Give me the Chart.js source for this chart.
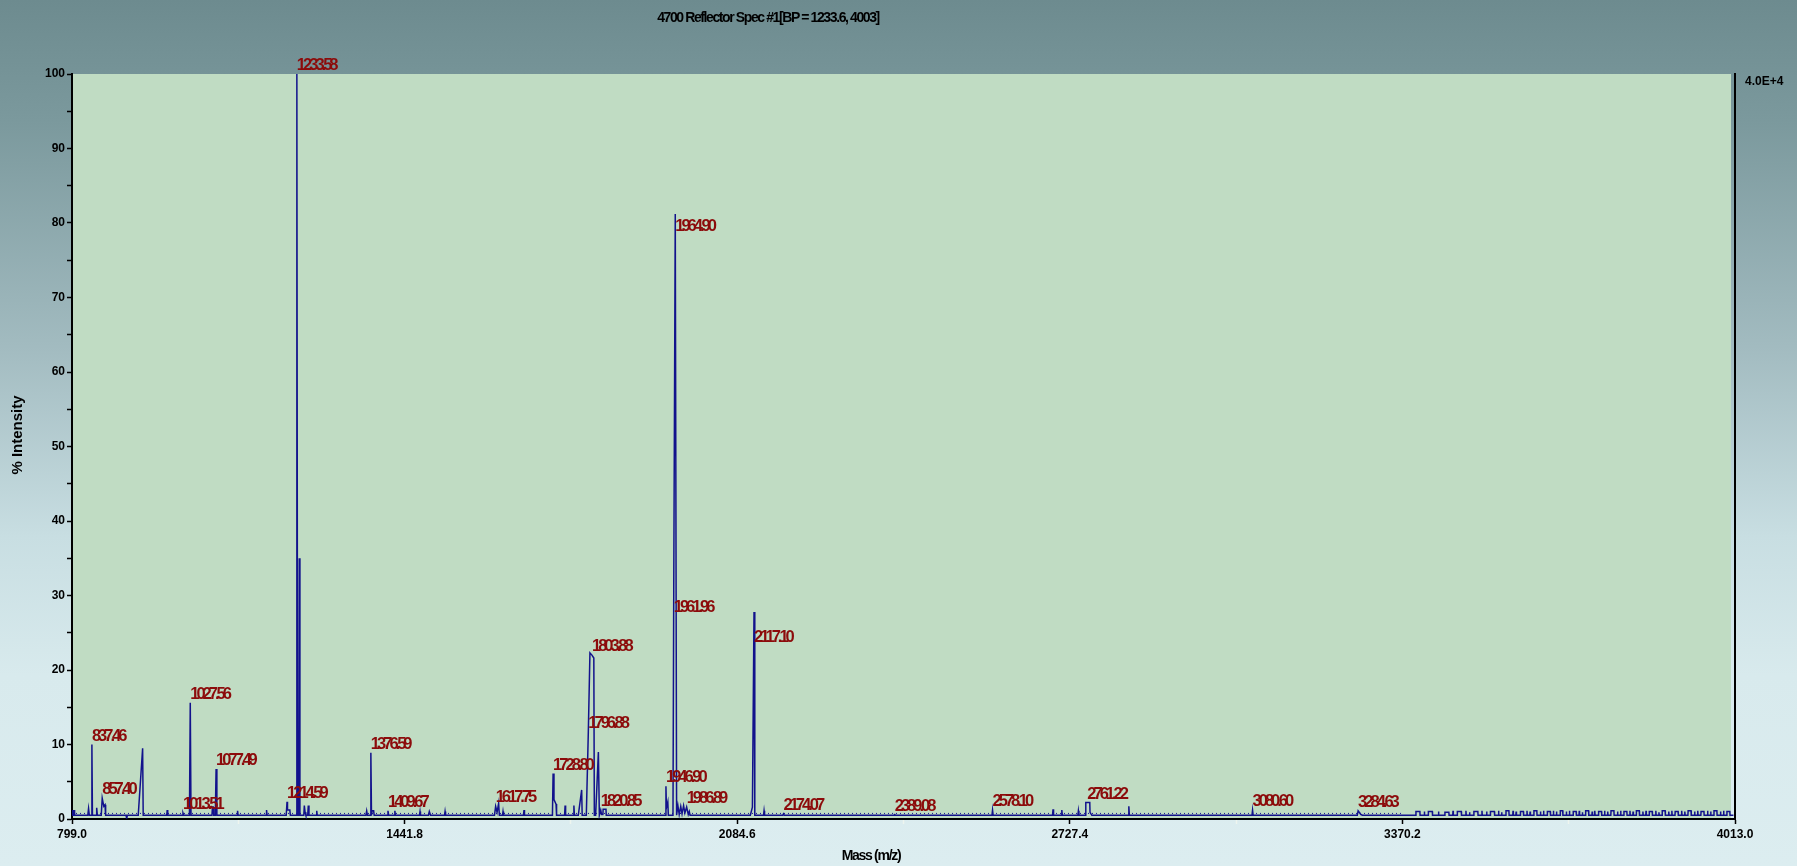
<!DOCTYPE html>
<html>
<head>
<meta charset="utf-8">
<title>4700 Reflector Spec #1</title>
<script src="https://cdn.jsdelivr.net/npm/chart.js@4.4.1/dist/chart.umd.min.js"></script>
<style>
  html, body {
    margin: 0;
    padding: 0;
    overflow: hidden;
  }
  body {
    width: 1797px;
    height: 866px;
    background: linear-gradient(180deg, #6d8b8f 0%, #7b999d 14%, #a2bbc0 40%, #c8dee2 62%, #d8eaed 78%, #dcedf0 100%);
  }
  #spec {
    display: block;
  }
</style>
</head>
<body>
<canvas id="spec" width="1797" height="866"></canvas>
<script>
// axis ticks (m/z and % intensity)
const massTicks = [799.0, 1441.8, 2084.6, 2727.4, 3370.2, 4013.0];
const massMinorTicks = [1120.4, 1763.2, 2406.0, 3048.8, 3691.6];
const intensityTicks = [0, 5, 10, 15, 20, 25, 30, 35, 40, 45, 50, 55, 60, 65, 70, 75, 80, 85, 90, 95, 100];

// annotated peaks: m/z and % intensity
const labelMz  = [837.46, 857.40, 1013.51, 1027.56, 1077.49, 1214.59, 1233.58, 1376.59, 1409.67, 1617.75,
                  1728.80, 1796.88, 1803.88, 1820.85, 1946.90, 1961.96, 1964.90, 1986.89, 2117.10, 2174.07,
                  2389.08, 2578.10, 2761.22, 3080.60, 3284.63];
const labelPct = [10.0, 2.8, 0.8, 15.6, 6.7, 2.3, 100, 8.9, 1.1, 1.7,
                  6.1, 11.7, 22.0, 1.2, 4.4, 30.6, 81.2, 1.6, 27.8, 0.7,
                  0.6, 1.2, 2.2, 1.2, 1.1];

// rest of the profile, [m/z, %]
const traceA = [
  [799, 1.2], [800.5, 0.5], [802, 0.5], [803, 1.2], [804, 0.5],
  [829.5, 0.5], [831, 1.4], [832.5, 0.5],
  [836, 0.5], [838.5, 0.5],
  [845.5, 0.5], [846.7, 1.5], [848, 0.5],
  [855.5, 0.5], [860.5, 1.7], [862.8, 1.9], [864, 0.5],
  [903.5, 0.5], [904.7, 0.05], [906, 0.5],
  [927, 0.5], [935.5, 9.5], [936.6, 0.5],
  [982, 0.5], [983, 1.2], [984, 0.5],
  [1012, 0.5], [1015, 0.5],
  [1026, 0.5], [1029, 0.5],
  [1069.5, 0.5], [1070.5, 1.6], [1072, 1.6], [1073, 0.5],
  [1076, 0.5], [1079, 0.5],
  [1118, 0.5], [1119, 1.1], [1120, 0.5],
  [1174, 0.5], [1175, 1.2], [1176, 0.5],
  [1213, 0.5], [1215.5, 1.2], [1220, 1.2], [1221, 0.5],
  [1232, 0.5], [1235, 0.5], [1237.5, 0.5], [1238.3, 35], [1239.5, 0.5],
  [1247, 0.5], [1248, 1.8], [1249.5, 0.9], [1251, 0.5],
  [1254.5, 0.5], [1255.7, 1.8], [1257, 0.5],
  [1271, 0.5], [1272, 1.1], [1273, 0.5]
];
const traceB = [
  [1367, 0.5], [1368.5, 1.1], [1370, 0.5],
  [1375, 0.5], [1377.8, 0.5], [1379, 1.1], [1382, 1.1], [1383, 0.5],
  [1408, 0.5], [1411, 0.5],
  [1422, 0.5], [1423, 1.1], [1424, 0.5],
  [1470.5, 0.5], [1471.6, 1.0], [1472.5, 0.5],
  [1488, 0.5], [1489.6, 1.0], [1492, 0.5],
  [1519, 0.5], [1520, 1.0], [1521, 0.5],
  [1615.5, 0.5], [1620.5, 0.9], [1623.5, 2.1], [1625, 0.5],
  [1631, 0.5], [1632, 1.0], [1633, 0.5],
  [1671.5, 0.5], [1672.6, 1.2], [1673.5, 0.5],
  [1727.5, 0.5], [1730.5, 2.6], [1734.5, 2.0], [1735.5, 0.5],
  [1751, 0.5], [1752, 1.8], [1753, 0.5],
  [1768, 0.5], [1769, 1.8], [1770, 0.5],
  [1777.5, 0.5], [1784, 3.9], [1785, 0.5],
  [1793, 0.5], [1800.0, 22.3], [1807.5, 21.6], [1808.5, 0.5],
  [1811, 0.5], [1816.3, 9.0], [1818.2, 0.5],
  [1822.5, 0.6], [1825, 0.6], [1825.5, 1.3], [1831, 1.3], [1831.5, 0.5]
];
const traceC = [
  [1945.5, 0.5], [1947.8, 1.5], [1950.5, 2.3], [1951.5, 0.5],
  [1960.5, 0.5], [1967.5, 0.5],
  [1970, 1.8], [1972.5, 0.6], [1975.5, 1.7], [1978, 0.7], [1981, 1.8], [1983.5, 0.8],
  [1990, 0.6], [1992, 1.0], [1993.5, 0.5],
  [2110, 0.5], [2114, 1.6], [2118.6, 0.5],
  [2135.5, 0.5], [2136.5, 1.1], [2137.5, 0.5],
  [2172.5, 0.5], [2175.5, 0.5],
  [2387.5, 0.5], [2390.5, 0.5],
  [2577, 0.5], [2579.2, 0.5],
  [2694, 0.5], [2695, 1.3], [2696, 0.5],
  [2711, 0.5], [2712, 1.2], [2713, 0.5],
  [2743, 0.5], [2744, 1.1], [2745, 0.5],
  [2757.8, 0.5], [2758.3, 2.2], [2766, 2.2], [2766.5, 0.9], [2770, 0.5],
  [2840.5, 0.5], [2841.5, 1.7], [2842.5, 0.5],
  [3079.5, 0.5], [3081.7, 0.5],
  [3283, 0.5], [3290, 0.6], [3293, 0.5]
];
const traceD = [
  [3372, 0.5], [3396, 0.5], [3396.4, 1.0], [3404, 1.0], [3404.4, 0.5],
  [3412, 0.5], [3412.6, 1.0], [3413.2, 0.5],
  [3420, 0.5], [3420.4, 1.0], [3428, 1.0], [3428.4, 0.5],
  [3439.5, 0.5], [3440, 1.0], [3440.6, 0.5],
  [3452, 0.5], [3452.4, 0.9], [3460, 0.9], [3460.4, 0.5],
  [3467.5, 0.5], [3468, 1.1], [3468.6, 0.5],
  [3476, 0.5], [3476.4, 1.0], [3484, 1.0], [3484.4, 0.5],
  [3492.5, 0.5], [3493, 1.1], [3493.6, 0.5],
  [3499.5, 0.5], [3500, 0.9], [3500.6, 0.5],
  [3508, 0.5], [3508.4, 1.0], [3516, 1.0], [3516.4, 0.5],
  [3523.5, 0.5], [3524, 1.1], [3524.6, 0.5],
  [3532.5, 0.5], [3533, 1.0], [3533.6, 0.5],
  [3540, 0.5], [3540.4, 1.0], [3548, 1.0], [3548.4, 0.5],
  [3555.5, 0.5], [3556, 1.1], [3556.6, 0.5],
  [3561.5, 0.5], [3562, 0.9], [3562.6, 0.5],
  [3570, 0.5], [3570.4, 1.1], [3576, 1.1], [3576.4, 0.5],
  [3583.5, 0.5], [3584, 1.1], [3584.6, 0.5],
  [3589.5, 0.5], [3590, 1.0], [3590.6, 0.5],
  [3598, 0.5], [3598.4, 1.0], [3604, 1.0], [3604.4, 0.5],
  [3610.5, 0.5], [3611, 1.1], [3611.6, 0.5],
  [3616.5, 0.5], [3617, 1.0], [3617.6, 0.5],
  [3624, 0.5], [3624.4, 1.1], [3630, 1.1], [3630.4, 0.5],
  [3636.5, 0.5], [3637, 1.0], [3637.6, 0.5],
  [3642.5, 0.5], [3643, 1.1], [3643.6, 0.5],
  [3650, 0.5], [3650.4, 1.0], [3656, 1.0], [3656.4, 0.5],
  [3661.5, 0.5], [3662, 1.1], [3662.6, 0.5],
  [3667.5, 0.5], [3668, 1.0], [3668.6, 0.5],
  [3675, 0.5], [3675.4, 1.1], [3680, 1.1], [3680.4, 0.5],
  [3686.5, 0.5], [3687, 1.0], [3687.6, 0.5],
  [3692.5, 0.5], [3693, 1.1], [3693.6, 0.5],
  [3700, 0.5], [3700.4, 1.0], [3706, 1.0], [3706.4, 0.5],
  [3711.5, 0.5], [3712, 1.1], [3712.6, 0.5],
  [3717.5, 0.5], [3718, 0.9], [3718.6, 0.5],
  [3724, 0.5], [3724.4, 1.1], [3730, 1.1], [3730.4, 0.5],
  [3736.5, 0.5], [3737, 1.0], [3737.6, 0.5],
  [3741.5, 0.5], [3742, 1.1], [3742.6, 0.5],
  [3749, 0.5], [3749.4, 1.0], [3755, 1.0], [3755.4, 0.5],
  [3760.5, 0.5], [3761, 1.1], [3761.6, 0.5],
  [3766.5, 0.5], [3767, 1.0], [3767.6, 0.5],
  [3773, 0.5], [3773.4, 1.1], [3779, 1.1], [3779.4, 0.5],
  [3785.5, 0.5], [3786, 1.0], [3786.6, 0.5],
  [3791.5, 0.5], [3792, 1.1], [3792.6, 0.5],
  [3798, 0.5], [3798.4, 1.0], [3804, 1.0], [3804.4, 0.5],
  [3809.5, 0.5], [3810, 1.1], [3810.6, 0.5],
  [3815.5, 0.5], [3816, 1.0], [3816.6, 0.5],
  [3822, 0.5], [3822.4, 1.1], [3828, 1.1], [3828.4, 0.5],
  [3834.5, 0.5], [3835, 1.0], [3835.6, 0.5],
  [3840.5, 0.5], [3841, 1.1], [3841.6, 0.5],
  [3847, 0.5], [3847.4, 1.0], [3853, 1.0], [3853.4, 0.5],
  [3859.5, 0.5], [3860, 1.1], [3860.6, 0.5],
  [3865.5, 0.5], [3866, 0.9], [3866.6, 0.5],
  [3872, 0.5], [3872.4, 1.1], [3878, 1.1], [3878.4, 0.5],
  [3884.5, 0.5], [3885, 1.0], [3885.6, 0.5],
  [3890.5, 0.5], [3891, 1.1], [3891.6, 0.5],
  [3897, 0.5], [3897.4, 1.0], [3903, 1.0], [3903.4, 0.5],
  [3909.5, 0.5], [3910, 1.1], [3910.6, 0.5],
  [3915.5, 0.5], [3916, 1.0], [3916.6, 0.5],
  [3922, 0.5], [3922.4, 1.1], [3928, 1.1], [3928.4, 0.5],
  [3934.5, 0.5], [3935, 1.0], [3935.6, 0.5],
  [3940.5, 0.5], [3941, 1.1], [3941.6, 0.5],
  [3947, 0.5], [3947.4, 1.0], [3953, 1.0], [3953.4, 0.5],
  [3959.5, 0.5], [3960, 1.1], [3960.6, 0.5],
  [3965.5, 0.5], [3966, 1.0], [3966.6, 0.5],
  [3972, 0.5], [3972.4, 1.1], [3978, 1.1], [3978.4, 0.5],
  [3984.5, 0.5], [3985, 1.0], [3985.6, 0.5],
  [3990.5, 0.5], [3991, 1.1], [3991.6, 0.5],
  [3997, 0.5], [3997.4, 1.0], [4003, 1.0], [4003.4, 0.5],
  [4010, 0.5]
];
// faint dotted noise floor just above the baseline
const noiseFloor = [[799, 0.75], [3370, 0.75]];

const fontFamily = '"Liberation Sans", Arial, sans-serif';
const labelRed = '#8c0b0b';
const traceBlue = '#12128c';

const trace = [...traceA, ...traceB, ...traceC, ...traceD,
               ...labelMz.map((m, i) => [m, labelPct[i]])]
  .sort((a, b) => a[0] - b[0])
  .map(([x, y]) => ({ x, y }));

function drawText(ctx, text, x, y, font, color, spacing, align) {
  ctx.save();
  ctx.font = font;
  ctx.fillStyle = color;
  ctx.letterSpacing = spacing;
  ctx.textAlign = align;
  ctx.fillText(text, x, y);
  ctx.restore();
}

// green plotting field behind the trace
const plotField = {
  id: 'plotField',
  beforeDraw(chart) {
    const { ctx, chartArea: a } = chart;
    ctx.save();
    ctx.fillStyle = '#c0dcc3';
    ctx.fillRect(a.left, a.top, a.right - a.left - 4, a.bottom - a.top);
    ctx.restore();
  }
};

// title, axis captions and peak annotations
const annotations = {
  id: 'annotations',
  afterDraw(chart) {
    const { ctx, chartArea: a } = chart;
    const xs = chart.scales.x;
    const ys = chart.scales.y;

    ctx.save();
    ctx.textBaseline = 'middle';
    drawText(ctx, '4700 Reflector Spec #1[BP = 1233.6, 4003]', 768, 18,
      'bold 14px ' + fontFamily, '#000', '-1.4px', 'center');
    drawText(ctx, '4.0E+4', a.right + 10, 82, 'bold 12px ' + fontFamily, '#000', '0px', 'left');
    drawText(ctx, 'Mass (m/z)', 871, 856, 'bold 14px ' + fontFamily, '#000', '-1.3px', 'center');
    ctx.translate(18, 435);
    ctx.rotate(-Math.PI / 2);
    drawText(ctx, '% Intensity', 0, 0, 'bold 15px ' + fontFamily, '#000', '0px', 'center');
    ctx.restore();

    // a few labels sit below their peak tops
    const dropBelow = { '1961.96': 21, '1964.90': 17, '2117.10': 30 };
    ctx.save();
    ctx.textBaseline = 'alphabetic';
    labelMz.forEach((m, i) => {
      const text = m.toFixed(2);
      const px = xs.getPixelForValue(m);
      const py = ys.getPixelForValue(labelPct[i]);
      const y = dropBelow[text] !== undefined ? py + dropBelow[text] : py - 4;
      drawText(ctx, text, px, y, 'bold 16.5px ' + fontFamily, labelRed, '-3px', 'left');
    });
    ctx.restore();
  }
};

const ctx = document.getElementById('spec').getContext('2d');
new Chart(ctx, {
  type: 'line',
  data: {
    datasets: [
      {
        data: trace,
        borderColor: traceBlue,
        borderWidth: 1.5,
        pointRadius: 0,
        tension: 0,
        fill: false
      },
      {
        data: noiseFloor.map(([x, y]) => ({ x, y })),
        borderColor: traceBlue,
        borderWidth: 1,
        borderDash: [1, 3],
        pointRadius: 0,
        fill: false
      }
    ]
  },
  options: {
    responsive: false,
    animation: false,
    devicePixelRatio: 1,
    layout: { padding: { top: 74, left: 0, right: 0, bottom: 0 } },
    plugins: {
      legend: { display: false },
      tooltip: { enabled: false },
      title: { display: false }
    },
    scales: {
      x: {
        type: 'linear',
        min: massTicks[0],
        max: massTicks[massTicks.length - 1],
        afterBuildTicks: axis => {
          axis.ticks = [...massTicks, ...massMinorTicks].sort((a, b) => a - b).map(v => ({ value: v }));
        },
        afterFit: axis => { axis.height = 47; },
        ticks: {
          autoSkip: false,
          maxRotation: 0,
          padding: 3,
          color: '#000',
          font: { family: fontFamily, size: 12, weight: 'bold' },
          callback: v => massTicks.includes(v) ? v.toFixed(1) : ''
        },
        grid: {
          drawOnChartArea: false,
          tickLength: 5,
          tickWidth: 1.5,
          tickColor: c => massTicks.includes(c.tick.value) ? '#000' : '#eef5ef'
        },
        border: { color: '#000', width: 2 }
      },
      y: {
        type: 'linear',
        position: 'left',
        min: 0,
        max: 100,
        afterBuildTicks: axis => {
          axis.ticks = intensityTicks.map(v => ({ value: v }));
        },
        afterFit: axis => { axis.width = 72; },
        ticks: {
          autoSkip: false,
          padding: 2,
          color: '#000',
          font: { family: fontFamily, size: 12, weight: 'bold' },
          callback: v => v % 10 === 0 ? String(v) : ''
        },
        grid: {
          drawOnChartArea: false,
          tickLength: 5,
          tickWidth: 1.5,
          tickColor: '#000'
        },
        border: { color: '#000', width: 2 }
      },
      y2: {
        type: 'linear',
        position: 'right',
        min: 0,
        max: 100,
        afterFit: axis => { axis.width = 62; },
        ticks: { display: false },
        grid: { display: false, drawTicks: false },
        border: { display: true, color: '#000', width: 2 }
      }
    }
  },
  plugins: [plotField, annotations]
});
</script>
</body>
</html>
